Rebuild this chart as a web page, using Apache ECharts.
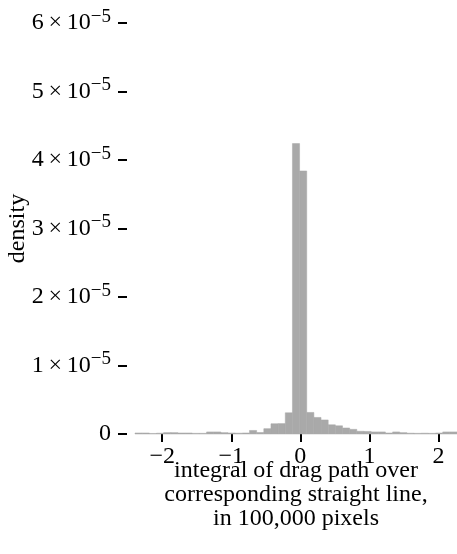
<!DOCTYPE html>
<html>
<head>
<meta charset="utf-8">
<script src="https://cdn.jsdelivr.net/npm/echarts@6/dist/echarts.min.js"></script>
<style>
  html, body { margin: 0; padding: 0; background: #fff; }
  #chart { width: 457px; height: 554px; }
</style>
</head>
<body>
<div id="chart"></div>
<script>
// histogram bins: 45 equal bins starting at binStart
const binStart = -2.394;
const binWidth = 0.1036;
// density per bin
const density = [
  0.15e-6, 0.15e-6, 0.08e-6, 0.12e-6, 0.2e-6, 0.2e-6, 0.15e-6, 0.15e-6, 0.1e-6, 0.1e-6,
  0.3e-6, 0.3e-6, 0.2e-6, 0.15e-6, 0.12e-6, 0.15e-6, 0.52e-6, 0.22e-6, 0.78e-6, 1.5e-6,
  1.52e-6, 3.1e-6, 4.24e-5, 3.84e-5, 3.15e-6, 2.42e-6, 2.05e-6, 1.35e-6, 1.2e-6, 0.88e-6,
  0.68e-6, 0.4e-6, 0.38e-6, 0.3e-6, 0.3e-6, 0.15e-6, 0.3e-6, 0.2e-6, 0.12e-6, 0.1e-6,
  0.12e-6, 0.1e-6, 0.15e-6, 0.3e-6, 0.3e-6
];
const xTicks = [-2, -1, 0, 1, 2];
const yTicks = [0, 1e-5, 2e-5, 3e-5, 4e-5, 5e-5, 6e-5];

const font = '"Liberation Serif", "DejaVu Serif", serif';

const bins = density.map((d, i) => {
  const x0 = binStart + i * binWidth;
  return [x0, x0 + binWidth, d];
});

const chart = echarts.init(document.getElementById('chart'));
chart.setOption({
  animation: false,
  grid: { left: 135, right: 0, top: 23, bottom: 120, outerBoundsMode: 'none' },
  xAxis: {
    type: 'value',
    min: binStart,
    max: binStart + density.length * binWidth,
    splitLine: { show: false },
    axisLine: { show: false, onZero: false },
    axisTick: { show: true, length: 8, customValues: xTicks, lineStyle: { color: '#000', width: 2 } },
    axisLabel: {
      customValues: xTicks,
      margin: 11,
      color: '#000',
      fontFamily: font,
      fontSize: 24,
      formatter: v => (v < 0 ? '\u2212' + Math.abs(v) : String(v))
    },
    name: 'integral of drag path over\ncorresponding straight line,\nin 100,000 pixels',
    nameLocation: 'middle',
    nameMoveOverlap: false,
    nameGap: 25,
    nameTextStyle: { color: '#000', fontFamily: font, fontSize: 24, lineHeight: 24 }
  },
  yAxis: {
    type: 'value',
    min: 0,
    max: 6e-5,
    interval: 1e-5,
    offset: 8,
    splitLine: { show: false },
    axisLine: { show: false, onZero: false },
    axisTick: { show: true, length: 9, customValues: yTicks, lineStyle: { color: '#000', width: 2 } },
    axisLabel: {
      customValues: yTicks,
      margin: 16,
      color: '#000',
      fontFamily: font,
      fontSize: 24,
      formatter: v => {
        const n = Math.round(v / 1e-5);
        if (n === 0) return '0';
        return '{m|' + n + '\u2009\u00d7\u200910}{s|\u22125}';
      },
      rich: {
        m: { fontFamily: font, fontSize: 24, color: '#000' },
        s: { fontFamily: font, fontSize: 19, color: '#000', padding: [0, 0, 12, 0] }
      }
    },
    name: 'density',
    nameLocation: 'middle',
    nameMoveOverlap: false,
    nameGap: 97,
    nameRotate: 90,
    nameTextStyle: { color: '#000', fontFamily: font, fontSize: 24 }
  },
  series: [{
    type: 'custom',
    data: bins,
    encode: { x: [0, 1], y: 2 },
    renderItem: (params, api) => {
      const p0 = api.coord([api.value(0), api.value(2)]);
      const p1 = api.coord([api.value(1), 0]);
      return {
        type: 'rect',
        shape: { x: p0[0], y: p0[1], width: p1[0] - p0[0], height: p1[1] - p0[1] },
        style: { fill: '#a9a9a9', stroke: '#a9a9a9', lineWidth: 0.5 }
      };
    }
  }]
});
</script>
</body>
</html>
